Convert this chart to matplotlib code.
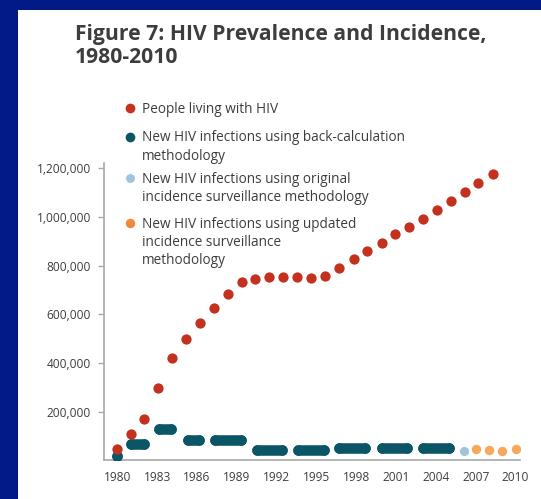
import matplotlib
matplotlib.use("Agg")
import matplotlib.pyplot as plt
from matplotlib.lines import Line2D
from matplotlib.patches import Rectangle
from matplotlib.ticker import FuncFormatter

plt.rcParams["font.family"] = ["Open Sans", "DejaVu Sans"]

# people living with HIV (red dots); x positions
prev_x = [1980, 1981, 1982, 1983.05, 1984.1, 1985.15, 1986.2, 1987.3, 1988.35,
          1989.4, 1990.4, 1991.45, 1992.5, 1993.55, 1994.6, 1995.65, 1996.7,
          1997.8, 1998.8, 1999.9, 2000.9, 2002.0, 2003.05, 2004.1, 2005.15,
          2006.15, 2007.2, 2008.3]
prev_y = [47000, 108000, 172000, 299000, 422000, 497000, 563000, 625000, 683000,
          734000, 745000, 754000, 755000, 755000, 749000, 756000, 789000,
          826000, 861000, 893000, 928000, 958000, 992000, 1028000, 1064000,
          1101000, 1138000, 1176000]

# new infections, back-calculation periods (teal capsules)
back_start = [1980, 1981, 1983.1, 1985.3, 1987.35, 1990.5, 1993.6, 1996.7, 1999.9, 2003.05]
back_end = [1980, 1982, 1984.05, 1986.15, 1989.3, 1992.4, 1995.55, 1998.65, 2001.85, 2004.95]
back_y = [17000, 66000, 129000, 84000, 84000, 43000, 43000, 52000, 50000, 50000]

# original incidence surveillance (light blue)
orig_x = [2006.1]
orig_y = [40000]

# updated incidence surveillance (orange)
upd_x = [2007, 2008, 2009, 2010]
upd_y = [46000, 43000, 40000, 46000]

year_ticks = [1980, 1983, 1986, 1989, 1992, 1995, 1998, 2001, 2004, 2007, 2010]
value_ticks = [200000, 400000, 600000, 800000, 1000000, 1200000]

RED = "#c5311f"
TEAL = "#0b5666"
LBLUE = "#9fc4dc"
ORANGE = "#f6a85c"
ORANGE_LEG = "#f08a3a"
NAVY = "#021a86"
TXT = "#3d3d3d"
AXC = "#a8a8a8"

W, H = 541, 499
fig = plt.figure(figsize=(W / 100, H / 100), dpi=100, facecolor=NAVY)
fig.add_artist(Rectangle((18 / W, 0), 1, 1 - 10 / H, transform=fig.transFigure,
                         facecolor="white", edgecolor="none", zorder=0))

ax = fig.add_axes([103.5 / W, 38.6 / H, (520 - 103.5) / W, (460.4 - 163.3) / H])
ax.set_facecolor("none")

for s, e, v in zip(back_start, back_end, back_y):
    ax.plot([s, e], [v, v], color=TEAL, lw=7.6, solid_capstyle="round",
            marker="o", ms=7.6, mew=0, zorder=3)
ax.plot(prev_x, prev_y, "o", color=RED, ms=7.4, mew=0, zorder=4)
ax.plot(orig_x, orig_y, "o", color=LBLUE, ms=6.6, mew=0, zorder=3)
ax.plot(upd_x, upd_y, "o", color=ORANGE, ms=6.8, mew=0, zorder=3)

ax.set_xlim(1978.95, 2010.33)
ax.set_ylim(0, 1220000)
ax.set_xticks(year_ticks)
ax.set_yticks(value_ticks)
ax.yaxis.set_major_formatter(FuncFormatter(lambda v, p: f"{int(v):,}"))
for sp in ["top", "right"]:
    ax.spines[sp].set_visible(False)
for sp in ["left", "bottom"]:
    ax.spines[sp].set_color(AXC)
    ax.spines[sp].set_linewidth(1.2)
ax.tick_params(axis="y", length=4, width=1, color=AXC, pad=5,
               labelsize=8.6, labelcolor=TXT)
ax.tick_params(axis="x", length=0, pad=7.5, labelsize=8.6, labelcolor=TXT)

# title (multi-line baseline alignment uses the last line)
fig.text(75 / W, 1 - 63.3 / H, "Figure 7: HIV Prevalence and Incidence,\n1980-2010",
         fontsize=15.2, fontweight="bold", color=TXT, va="baseline", ha="left",
         linespacing=1.14)

# legend
LINE = 18.3
legend_items = [
    (RED, 7.0, "People living with HIV", 108.3),
    (TEAL, 7.0, "New HIV infections using back-calculation\nmethodology", 136.7),
    (LBLUE, 6.4, "New HIV infections using original\nincidence surveillance methodology", 178.3),
    (ORANGE_LEG, 6.8, "New HIV infections using updated\nincidence surveillance\nmethodology", 223.3),
]
for color, ms, label, yc in legend_items:
    fig.add_artist(Line2D([130 / W], [1 - yc / H], marker="o", color=color, ms=ms,
                          mew=0, transform=fig.transFigure))
    last_base = yc + 4.5 + LINE * label.count("\n")
    fig.text(141.5 / W, 1 - last_base / H, label, fontsize=9.8, color=TXT,
             va="baseline", ha="left", linespacing=1.3)

fig.savefig("out.png", dpi=100, facecolor=NAVY)
